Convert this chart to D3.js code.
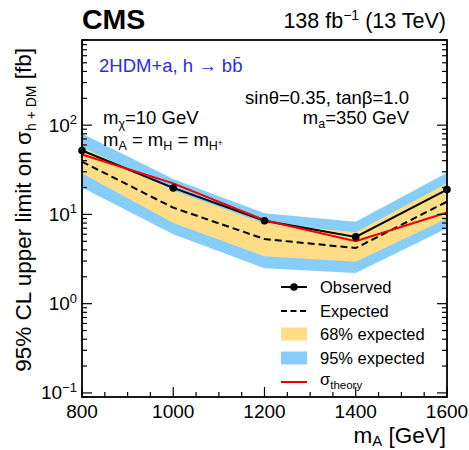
<!DOCTYPE html>
<html><head><meta charset="utf-8">
<script src="https://cdn.jsdelivr.net/npm/d3@7"></script>
<style>body{margin:0;background:#fff}svg{display:block}text{font-family:"Liberation Sans",Arial,sans-serif}</style>
</head><body><svg id="c" width="469" height="450"></svg>
<script>
const massA = [800, 1000, 1200, 1400, 1600];
const observed = [52, 19.8, 8.5, 5.6, 19];
const expected = [39, 11.9, 5.3, 4.2, 13.9];
const theory = [47, 22.3, 8.6, 5.0, 10.5];
const band68Up = [57, 18.5, 7.9, 6.3, 22.3];
const band68Lo = [29, 8.0, 3.4, 2.95, 9.0];
const band95Up = [80, 25, 10.3, 8.3, 29.3];
const band95Lo = [20, 6.0, 2.5, 2.2, 7.0];
const xTicks = [800, 1000, 1200, 1400, 1600];
const yTickExps = [-1, 0, 1, 2];

const svg = d3.select("#c");
const L = 82, R = 447, T = 40, B = 397;
const x = d3.scaleLinear().domain([800, 1600]).range([L, R]);
const y = d3.scaleLog().domain([0.09, 900]).range([B, T]);

const g = svg.append("g");
const idx = d3.range(massA.length);
const area = (up, lo) => d3.area().x(i => x(massA[i])).y0(i => y(lo[i])).y1(i => y(up[i]));
g.append("path").attr("d", area(band95Up, band95Lo)(idx)).attr("fill", "#87cdf9");
g.append("path").attr("d", area(band68Up, band68Lo)(idx)).attr("fill", "#fedd86");
const line = arr => d3.line().x(i => x(massA[i])).y(i => y(arr[i]));
g.append("path").attr("d", line(expected)(idx)).attr("fill", "none").attr("stroke", "#000").attr("stroke-width", 2).attr("stroke-dasharray", "7,4");
g.append("path").attr("d", line(observed)(idx)).attr("fill", "none").attr("stroke", "#000").attr("stroke-width", 2);
g.append("path").attr("d", line(theory)(idx)).attr("fill", "none").attr("stroke", "#ee0000").attr("stroke-width", 2);
g.selectAll("circle.obs").data(idx).join("circle").attr("class", "obs")
  .attr("cx", i => x(massA[i])).attr("cy", i => y(observed[i])).attr("r", 3.8).attr("fill", "#000");

// frame
svg.append("rect").attr("x", L).attr("y", T).attr("width", R - L).attr("height", B - T)
  .attr("fill", "none").attr("stroke", "#000").attr("stroke-width", 1.8);

// x ticks (bottom)
const xMinor = d3.range(850, 1600, 50).filter(v => v % 200 !== 0);
const ax = svg.append("g").attr("stroke", "#000").attr("stroke-width", 1.2);
xTicks.forEach(v => ax.append("line").attr("x1", x(v)).attr("x2", x(v)).attr("y1", B).attr("y2", B - 10));
xMinor.forEach(v => ax.append("line").attr("x1", x(v)).attr("x2", x(v)).attr("y1", B).attr("y2", B - 5));
// y ticks both sides
const yMinor = [];
[-2, -1, 0, 1, 2].forEach(e => { for (let k = 2; k <= 9; k++) { const v = k * Math.pow(10, e); if (v >= 0.09 && v <= 900) yMinor.push(v); } });
yTickExps.forEach(e => {
  const yy = y(Math.pow(10, e));
  ax.append("line").attr("x1", L).attr("x2", L + 10).attr("y1", yy).attr("y2", yy);
  ax.append("line").attr("x1", R).attr("x2", R - 10).attr("y1", yy).attr("y2", yy);
});
yMinor.forEach(v => {
  const yy = y(v);
  ax.append("line").attr("x1", L).attr("x2", L + 5).attr("y1", yy).attr("y2", yy);
  ax.append("line").attr("x1", R).attr("x2", R - 5).attr("y1", yy).attr("y2", yy);
});

// tick labels
svg.selectAll("text.xl").data(xTicks).join("text").attr("class", "xl")
  .attr("x", d => x(d)).attr("y", 418).attr("text-anchor", "middle").attr("font-size", 19).text(d => d);
yTickExps.forEach(e => {
  const t = svg.append("text").attr("x", 77).attr("y", y(Math.pow(10, e)) + 6.5).attr("text-anchor", "end").attr("font-size", 19);
  t.append("tspan").text("10");
  t.append("tspan").attr("dy", -7.5).attr("font-size", 13).text(e < 0 ? "\u2212" + Math.abs(e) : String(e));
});

// axis titles
const xt = svg.append("text").attr("x", 446).attr("y", 443).attr("text-anchor", "end").attr("font-size", 22.5);
xt.append("tspan").text("m");
xt.append("tspan").attr("dy", 3).attr("font-size", 15).text("A");
xt.append("tspan").attr("dy", -3).text(" [GeV]");

const yt = svg.append("text").attr("transform", "translate(31,48) rotate(-90)").attr("text-anchor", "end").attr("font-size", 22.5);
yt.append("tspan").text("95% CL upper limit on \u03c3");
yt.append("tspan").attr("dy", 5).attr("font-size", 14).text("h + DM");
yt.append("tspan").attr("dy", -5).text(" [fb]");

// header
svg.append("text").attr("x", 82).attr("y", 29).attr("font-size", 28.5).attr("font-weight", "bold").text("CMS");
const lum = svg.append("text").attr("x", 446).attr("y", 28).attr("text-anchor", "end").attr("font-size", 21.5);
lum.append("tspan").text("138 fb");
lum.append("tspan").attr("dy", -8.5).attr("font-size", 14).text("\u22121");
lum.append("tspan").attr("dy", 8.5).text(" (13 TeV)");

// annotations
const fs = 18.5, fss = 12.5;
svg.append("text").attr("x", 99).attr("y", 72).attr("font-size", fs).attr("fill", "#2b2bf5").text("2HDM+a, h \u2192 bb\u0304");
svg.append("text").attr("x", 409).attr("y", 104).attr("text-anchor", "end").attr("font-size", fs).text("sin\u03b8=0.35, tan\u03b2=1.0");
const ma = svg.append("text").attr("x", 409).attr("y", 124).attr("text-anchor", "end").attr("font-size", fs);
ma.append("tspan").text("m");
ma.append("tspan").attr("dy", 4).attr("font-size", fss).text("a");
ma.append("tspan").attr("dy", -4).text("=350 GeV");
const mx = svg.append("text").attr("x", 103).attr("y", 124).attr("font-size", fs);
mx.append("tspan").text("m");
mx.append("tspan").attr("dy", 4).attr("font-size", fss).text("\u03c7");
mx.append("tspan").attr("dy", -4).text("=10 GeV");
const mA = svg.append("text").attr("x", 103).attr("y", 146).attr("font-size", fs);
mA.append("tspan").text("m");
mA.append("tspan").attr("dy", 4).attr("font-size", fss).text("A");
mA.append("tspan").attr("dy", -4).text(" = m");
mA.append("tspan").attr("dy", 4).attr("font-size", fss).text("H");
mA.append("tspan").attr("dy", -4).text(" = m");
mA.append("tspan").attr("dy", 4).attr("font-size", fss).text("H");
mA.append("tspan").attr("dy", -4).attr("font-size", 8.5).text("+");

// legend
const legendLabels = ["Observed", "Expected", "68% expected", "95% expected", "theory"];
const lx0 = 281, lx1 = 307, tx = 320;
const rows = [287, 311, 334, 358, 382];
const lg = svg.append("g");
lg.append("line").attr("x1", lx0).attr("x2", lx1).attr("y1", rows[0]).attr("y2", rows[0]).attr("stroke", "#000").attr("stroke-width", 2);
lg.append("circle").attr("cx", (lx0 + lx1) / 2).attr("cy", rows[0]).attr("r", 3.8);
lg.append("line").attr("x1", lx0).attr("x2", lx1).attr("y1", rows[1]).attr("y2", rows[1]).attr("stroke", "#000").attr("stroke-width", 2).attr("stroke-dasharray", "6,3.5");
lg.append("rect").attr("x", lx0).attr("y", rows[2] - 6.5).attr("width", lx1 - lx0).attr("height", 13).attr("fill", "#fedd86");
lg.append("rect").attr("x", lx0).attr("y", rows[3] - 6.5).attr("width", lx1 - lx0).attr("height", 13).attr("fill", "#87cdf9");
lg.append("line").attr("x1", lx0).attr("x2", lx1).attr("y1", rows[4]).attr("y2", rows[4]).attr("stroke", "#ee0000").attr("stroke-width", 2);
legendLabels.slice(0, 4).forEach((t, i) => lg.append("text").attr("x", tx).attr("y", rows[i] + 6).attr("font-size", 16.5).text(t));
const st = lg.append("text").attr("x", tx).attr("y", rows[4] + 3).attr("font-size", 16.5);
st.append("tspan").text("\u03c3");
st.append("tspan").attr("dy", 4).attr("font-size", 11.5).text(legendLabels[4]);
</script></body></html>
